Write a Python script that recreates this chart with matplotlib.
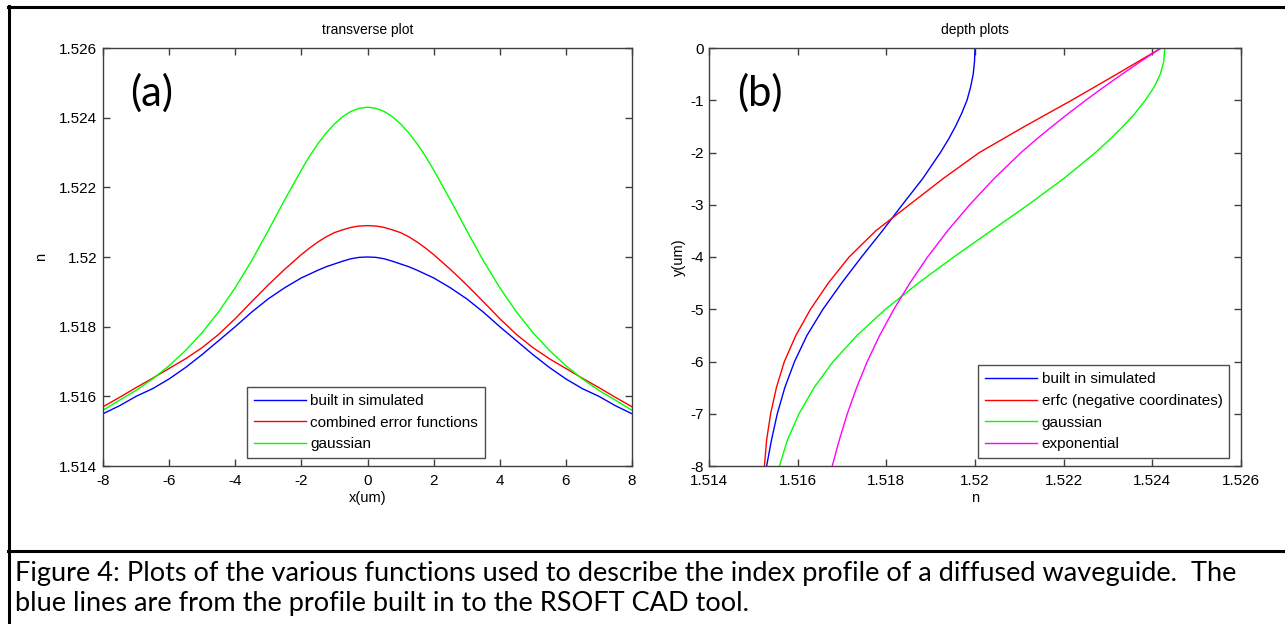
import matplotlib
matplotlib.use("Agg")
import matplotlib.pyplot as plt
from matplotlib.lines import Line2D

# ---------------- data: panel (a) transverse plot ----------------
x_um = [-8, -7.5, -7, -6.5, -6, -5.5, -5, -4.5, -4, -3.5, -3, -2.5, -2,
        -1.75, -1.5, -1.25, -1, -0.75, -0.5, -0.25, 0, 0.25, 0.5, 0.75, 1, 1.25, 1.5, 1.75,
        2, 2.5, 3, 3.5, 4, 4.5, 5, 5.5, 6, 6.5, 7, 7.5, 8]
a_builtin = [1.5155, 1.51573, 1.5160, 1.51622, 1.5165, 1.51683, 1.5172, 1.5176, 1.5180, 1.51842,
             1.5188, 1.51912, 1.5194,
             1.51951, 1.51962, 1.51972, 1.5198, 1.51988, 1.51995, 1.51999, 1.5200,
             1.51999, 1.51995, 1.51988, 1.5198, 1.51972, 1.51962, 1.51951,
             1.5194, 1.51912, 1.5188, 1.51842, 1.5180, 1.5176, 1.5172, 1.51683, 1.5165,
             1.51622, 1.5160, 1.51573, 1.5155]
a_erf = [1.5157, 1.51597, 1.51625, 1.51652, 1.5168, 1.51708, 1.5174, 1.51778, 1.51823, 1.51872,
         1.5192, 1.51965, 1.52007,
         1.52026, 1.52043, 1.52058, 1.5207, 1.52078, 1.52085, 1.52089, 1.5209,
         1.52089, 1.52085, 1.52078, 1.5207, 1.52058, 1.52043, 1.52026,
         1.52007, 1.51965, 1.5192, 1.51872, 1.51823, 1.51778, 1.5174, 1.51708, 1.5168,
         1.51652, 1.51625, 1.51597, 1.5157]
a_gauss = [1.5156, 1.51589, 1.51617, 1.5165, 1.51688, 1.51732, 1.51783, 1.51843, 1.51912, 1.5199,
           1.52076, 1.52165, 1.5225,
           1.5229, 1.52325, 1.52356, 1.52382, 1.52403, 1.52418, 1.52427, 1.5243,
           1.52427, 1.52418, 1.52403, 1.52382, 1.52356, 1.52325, 1.5229,
           1.5225, 1.52165, 1.52076, 1.5199, 1.51912, 1.51843, 1.51783, 1.51732, 1.51688,
           1.5165, 1.51617, 1.51589, 1.5156]
a_labels = ["built in simulated", "combined error functions", "gaussian"]

# ---------------- data: panel (b) depth plots ----------------
y_um = [0, -0.25, -0.5, -0.75, -1, -1.25, -1.5, -1.75, -2, -2.5, -3, -3.5, -4, -4.5, -5,
        -5.5, -6, -6.5, -7, -7.5, -8]
b_builtin = [1.52000, 1.51999, 1.51996, 1.5199, 1.51982, 1.5197, 1.51956, 1.5194, 1.51922,
             1.51882, 1.51836, 1.51791, 1.51744, 1.51699, 1.51657, 1.51621, 1.51593, 1.51571,
             1.51554, 1.51541, 1.5153]
b_erfc = [1.52420, 1.5237, 1.5232, 1.52269, 1.52218, 1.52165, 1.52112, 1.52061, 1.52010,
          1.51928, 1.51852, 1.51776, 1.51716, 1.51669, 1.51629, 1.51596, 1.5157, 1.51552,
          1.51539, 1.5153, 1.51525]
b_gauss = [1.52428, 1.52426, 1.52418, 1.52404, 1.52384, 1.52361, 1.52334, 1.52304, 1.52272,
           1.522, 1.5212, 1.52036, 1.51952, 1.51872, 1.51798, 1.51734, 1.5168, 1.51637,
           1.51603, 1.51577, 1.51559]
b_exp = [1.5242, 1.52375, 1.52332, 1.5229, 1.5225, 1.52211, 1.52174, 1.52138, 1.52104,
         1.52043, 1.51988, 1.51938, 1.51893, 1.51853, 1.51817, 1.51785, 1.51757, 1.51733,
         1.51712, 1.51694, 1.51678]
b_labels = ["built in simulated", "erfc (negative coordinates)", "gaussian", "exponential"]

n_ticks = [1.514, 1.516, 1.518, 1.520, 1.522, 1.524, 1.526]
n_ticklabels = ["1.514", "1.516", "1.518", "1.52", "1.522", "1.524", "1.526"]
x_ticks = [-8, -6, -4, -2, 0, 2, 4, 6, 8]
y_ticks = [0, -1, -2, -3, -4, -5, -6, -7, -8]

caption_lines = ["Figure 4: Plots of the various functions used to describe the index profile of a diffused waveguide.  The",
                 "blue lines are from the profile built in to the RSOFT CAD tool."]

# ---------------- styling ----------------
TICKFONT = ["Liberation Sans Narrow", "Liberation Sans", "DejaVu Sans"]
LEGFONT = ["Liberation Sans", "DejaVu Sans"]
CAPFONT = ["Lato", "DejaVu Sans"]
BLUE, RED, GREEN, MAG = "#0000ff", "#ff0000", "#00ff00", "#ff00ff"

W, H = 1285, 624
fig = plt.figure(figsize=(W / 100, H / 100), dpi=100)
fig.patch.set_facecolor("white")


def ax_rect(l, t, r, b):
    return [l / W, 1 - b / H, (r - l) / W, (b - t) / H]


def style_axes(ax):
    for s in ax.spines.values():
        s.set_color("#404040")
        s.set_linewidth(1.0)
    ax.tick_params(direction="in", top=True, right=True, length=5, width=1.0,
                   color="#404040", labelsize=11, pad=4)
    ax.tick_params(axis="x", pad=6)
    for lab in ax.get_xticklabels() + ax.get_yticklabels():
        lab.set_family(TICKFONT)


def make_legend(ax, anchor):
    lg = ax.legend(loc="lower left", bbox_to_anchor=anchor, prop={"family": LEGFONT, "size": 11},
                   frameon=True, fancybox=False, handlelength=3.4, handletextpad=0.3,
                   borderpad=0.45, labelspacing=0.5, borderaxespad=0)
    lg.get_frame().set_edgecolor("#202020")
    lg.get_frame().set_linewidth(1.0)
    return lg


# ---- panel (a)
axa = fig.add_axes(ax_rect(103, 48, 632, 466))
axa.plot(x_um, a_builtin, color=BLUE, lw=1.0, label=a_labels[0])
axa.plot(x_um, a_erf, color=RED, lw=1.0, label=a_labels[1])
axa.plot(x_um, a_gauss, color=GREEN, lw=1.0, label=a_labels[2])
axa.set_xlim(-8, 8)
axa.set_ylim(1.514, 1.526)
axa.set_xticks(x_ticks)
axa.set_xticklabels([str(v) for v in x_ticks])
axa.set_yticks(n_ticks)
axa.set_yticklabels(n_ticklabels)
style_axes(axa)
axa.set_title("transverse plot", fontsize=10, family=TICKFONT, pad=10)
axa.set_xlabel("x(um)", fontsize=10.5, family=TICKFONT, labelpad=2)
axa.set_ylabel("n", fontsize=10.5, family=TICKFONT, labelpad=8)
axa.text(0.091, 0.892, "(a)", transform=axa.transAxes, fontsize=30, family=CAPFONT,
         ha="center", va="center")
make_legend(axa, (0.272, 0.019))

# ---- panel (b)
axb = fig.add_axes(ax_rect(709, 48, 1241, 466))
axb.plot(b_builtin, y_um, color=BLUE, lw=1.0, label=b_labels[0])
axb.plot(b_erfc, y_um, color=RED, lw=1.0, label=b_labels[1])
axb.plot(b_gauss, y_um, color=GREEN, lw=1.0, label=b_labels[2])
axb.plot(b_exp, y_um, color=MAG, lw=1.0, label=b_labels[3])
axb.set_xlim(1.514, 1.526)
axb.set_ylim(-8, 0)
axb.set_xticks(n_ticks)
axb.set_xticklabels(n_ticklabels)
axb.set_yticks(y_ticks)
axb.set_yticklabels([str(v) for v in y_ticks])
style_axes(axb)
axb.set_title("depth plots", fontsize=10, family=TICKFONT, pad=10)
axb.set_xlabel("n", fontsize=10.5, family=TICKFONT, labelpad=2)
axb.set_ylabel("y(um)", fontsize=10.5, family=TICKFONT, labelpad=3)
axb.text(0.096, 0.892, "(b)", transform=axb.transAxes, fontsize=30, family=CAPFONT,
         ha="center", va="center")
make_legend(axb, (0.506, 0.019))

# ---- page table borders
def hline(y, x0, x1):
    fig.add_artist(Line2D([x0 / W, x1 / W], [1 - y / H, 1 - y / H], color="black", lw=2.2))


def vline(x, y0, y1):
    fig.add_artist(Line2D([x / W, x / W], [1 - y0 / H, 1 - y1 / H], color="black", lw=2.2))


hline(7, 8, W)
hline(551, 8, W)
vline(9, 6, H)

# ---- caption
for i, line in enumerate(caption_lines):
    fig.text(15 / W, 1 - (573 + 31 * i) / H, line, fontsize=19.5, family=CAPFONT,
             ha="left", va="center")

fig.savefig("out.png", dpi=100, facecolor="white")
